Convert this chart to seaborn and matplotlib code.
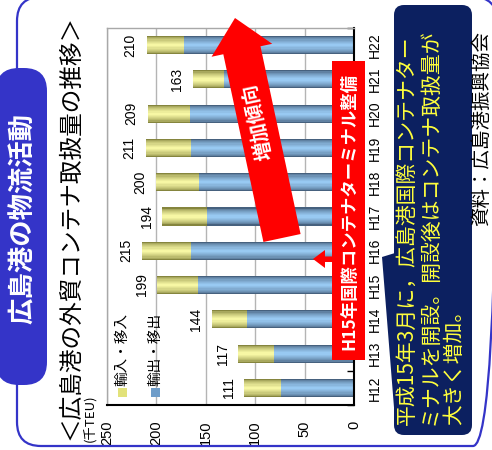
import numpy as np
import matplotlib
matplotlib.use("Agg")
import matplotlib.pyplot as plt
from matplotlib.patches import FancyBboxPatch, Polygon, Rectangle
from matplotlib.colors import to_rgb
import seaborn as sns

# Container throughput at Hiroshima port (thousand TEU)
years = ["H12", "H13", "H14", "H15", "H16", "H17", "H18", "H19", "H20", "H21", "H22"]
totals = [111, 117, 144, 199, 215, 194, 200, 211, 209, 163, 210]      # 輸出・移出 + 輸入・移入
exports = [74, 81, 108, 158, 165, 149, 157, 165, 166, 132, 172]       # 輸出・移出
value_ticks = [0, 50, 100, 150, 200, 250]
legend_labels = ["輸入・移入", "輸出・移出"]

sns.set_theme(style="white")
plt.rcParams["font.family"] = ["Noto Sans CJK JP", "DejaVu Sans"]
LATIN = ["Liberation Sans", "Noto Sans CJK JP"]

W, H = 492, 450
fig = plt.figure(figsize=(W / 100, H / 100), dpi=100)
fig.patch.set_facecolor("white")

ax = fig.add_axes([107 / W, 1 - 405 / H, (354 - 107) / W, (405 - 28) / H])
ax.set_facecolor("none")


def blend(c1, c2, t):
    a, b = np.array(to_rgb(c1)), np.array(to_rgb(c2))
    return tuple(a + (b - a) * t)


def shaded_bars(values, edge, center, width=0.53, layers=8):
    # stack progressively narrower, lighter bars to give a rounded look
    for k in range(layers):
        t = (k / (layers - 1)) ** 0.6
        sns.barplot(x=values, y=years, order=years, orient="h",
                    width=width * (1 - k / layers), color=blend(edge, center, t),
                    saturation=1, errorbar=None, linewidth=0, ax=ax)


shaded_bars(totals, "#85853e", "#f7f7a4")
shaded_bars(exports, "#46617e", "#98c9f2")

ax.set_xlim(250, 0)
ax.set_ylim(-0.5, 10.5)
ax.set_xlabel("")
ax.set_ylabel("")

ax.set_xticks(value_ticks)
ax.set_xticklabels([str(v) for v in value_ticks], rotation=90, family=LATIN)
ax.tick_params(axis="x", length=0, pad=11, labelsize=10.5, colors="black")

ax.yaxis.tick_right()
ax.set_yticks(range(len(years)))
ax.set_yticklabels(years, rotation=90, va="center", ha="left", family=LATIN)
ax.tick_params(axis="y", which="major", length=0, pad=10, labelsize=10, colors="black")
ax.set_yticks(np.arange(-0.5, len(years), 1), minor=True)
ax.tick_params(axis="y", which="minor", direction="in", length=5, right=True, left=False, color="black")

ax.xaxis.grid(True, color="#b4b4b4", lw=1)
ax.yaxis.grid(False)
ax.set_axisbelow(True)
for side in ("right", "bottom"):
    ax.spines[side].set_color("black")
    ax.spines[side].set_linewidth(1.5)
for side in ("left", "top"):
    ax.spines[side].set_color("#a8a8a8")
    ax.spines[side].set_linewidth(1)

for i, tot in enumerate(totals):
    ax.text(tot + 16, i, str(tot), rotation=90, ha="center", va="center",
            fontsize=10, family=LATIN, color="black")

# decorations drawn in pixel coordinates
ov = fig.add_axes([0, 0, 1, 1], zorder=10)
ov.set_xlim(0, W)
ov.set_ylim(H, 0)
ov.axis("off")
ov.patch.set_alpha(0)

blue = "#3434c8"
ov.add_patch(FancyBboxPatch((17, -3), 480, 449, boxstyle="round,pad=0,rounding_size=24",
                            fill=False, ec=blue, lw=1.6))
ov.add_patch(FancyBboxPatch((-4, 68), 51, 317, boxstyle="round,pad=0,rounding_size=23",
                            fc=blue, ec="none"))
ov.text(23.5, 219, "広島港の物流活動", rotation=90, ha="center", va="center",
        fontsize=19, fontweight="bold", color="white")

ov.text(71, 227, "＜広島港の外貿コンテナ取扱量の推移＞", rotation=90, ha="center",
        va="center", fontsize=17, color="black")
ov.text(90, 442, "(千TEU)", rotation=90, ha="center", va="bottom", fontsize=9.5, color="black")

# legend
for lab, col, x in zip(legend_labels, ["#e2e27a", "#6f9dc9"], [122, 155]):
    ov.add_patch(Rectangle((x - 4.5, 388), 9, 9, fc=col, ec="none"))
    ov.text(x, 386, lab, rotation=90, ha="center", va="bottom", fontsize=10.5, color="black")

# red trend arrow
tip = np.array([235.0, 18.0])
tail = np.array([282.0, 238.0])
u = (tip - tail) / np.linalg.norm(tip - tail)
n = np.array([-u[1], u[0]])
base = tip - u * 33
pts = [tip, base + n * 31, base + n * 19, tail + n * 19,
       tail - n * 19, base - n * 19, base - n * 31]
ov.add_patch(Polygon(pts, closed=True, fc="#ff0000", ec="none"))
ang = np.degrees(np.arctan2(-u[1], u[0]))
ov.text(257, 122, "増加傾向", rotation=ang, ha="center", va="center",
        fontsize=14, fontweight="bold", color="white")

# terminal opening marker
ov.add_patch(Rectangle((332, 61), 33, 299, fc="#ff0000", ec="none"))
ov.add_patch(Polygon([(313, 259), (325, 250), (325, 256.5), (333, 256.5),
                      (333, 262), (325, 262), (325, 268)], closed=True, fc="#ff0000", ec="none"))
ov.text(349, 212, "H15年国際コンテナターミナル整備", rotation=90, ha="center", va="center",
        fontsize=12.5, fontweight="bold", color="white")

# note box
navy = "#0c2060"
ov.add_patch(FancyBboxPatch((394, 5), 78, 430, boxstyle="round,pad=0,rounding_size=10",
                            fc=navy, ec="none"))
ov.add_patch(Polygon([(395, 253), (382, 257), (395, 420)], closed=True, fc=navy, ec="none"))
notes = ["平成15年3月に，広島港国際コンテナター",
         "ミナルを開設。開設後はコンテナ取扱量が",
         "大きく増加。"]
for line, x in zip(notes, [407, 430, 454]):
    ov.text(x, 425, line, rotation=90, ha="center", va="bottom", fontsize=15, color="#ffff3c")

ov.text(482, 226, "資料：広島港振興協会", rotation=90, ha="center", va="bottom",
        fontsize=14, color="black")

fig.savefig("out.png", dpi=100)
